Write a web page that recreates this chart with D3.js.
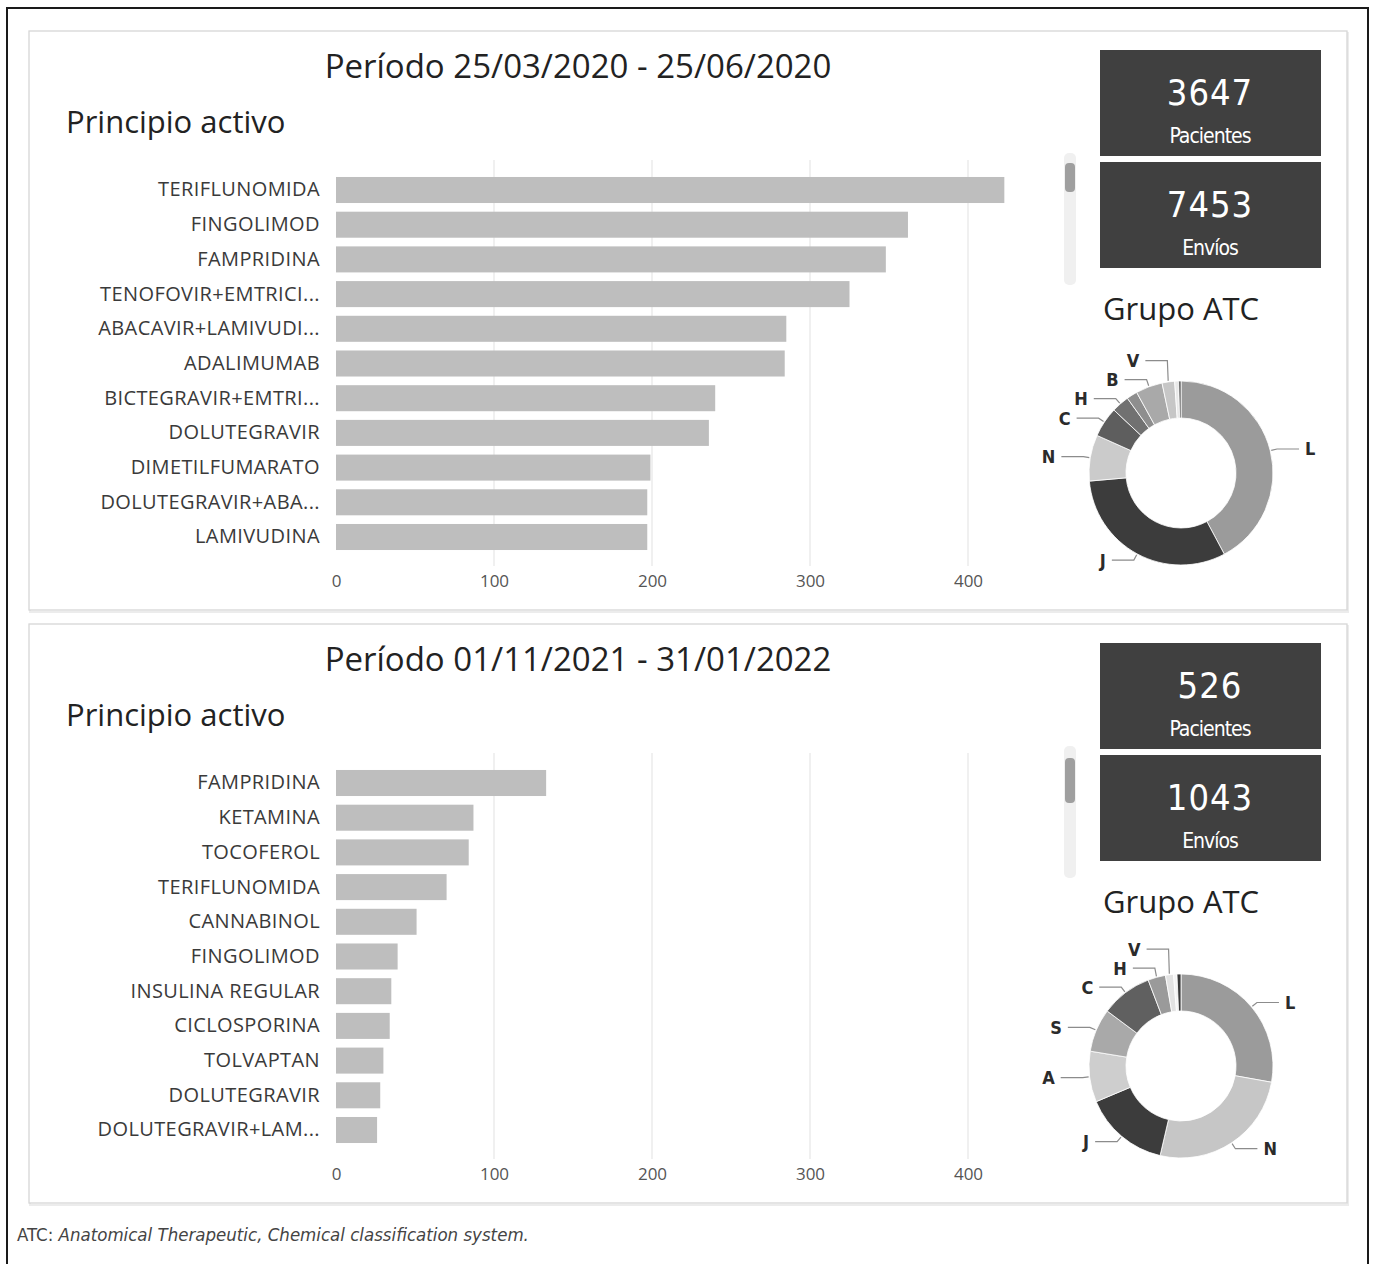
<!DOCTYPE html>
<html>
<head>
<meta charset="utf-8">
<script src="https://cdn.jsdelivr.net/npm/d3@7"></script>
<style>
  body { margin: 0; background: #fff; }
  svg { display: block; }
</style>
</head>
<body>
<div id="chart"></div>
<script>
// values
const periods = ['Período 25/03/2020 - 25/06/2020', 'Período 01/11/2021 - 31/01/2022'];

const drugs2020 = ['TERIFLUNOMIDA', 'FINGOLIMOD', 'FAMPRIDINA', 'TENOFOVIR+EMTRICI...', 'ABACAVIR+LAMIVUDI...',
  'ADALIMUMAB', 'BICTEGRAVIR+EMTRI...', 'DOLUTEGRAVIR', 'DIMETILFUMARATO', 'DOLUTEGRAVIR+ABA...', 'LAMIVUDINA'];
const counts2020 = [423, 362, 348, 325, 285, 284, 240, 236, 199, 197, 197];

const drugs2022 = ['FAMPRIDINA', 'KETAMINA', 'TOCOFEROL', 'TERIFLUNOMIDA', 'CANNABINOL', 'FINGOLIMOD',
  'INSULINA REGULAR', 'CICLOSPORINA', 'TOLVAPTAN', 'DOLUTEGRAVIR', 'DOLUTEGRAVIR+LAM...'];
const counts2022 = [133, 87, 84, 70, 51, 39, 35, 34, 30, 28, 26];

const xTicks = [0, 100, 200, 300, 400];

const pacientes = [3647, 526];
const envios = [7453, 1043];

// ATC groups, clockwise from 12 o'clock ('' = slice too small to be labelled)
const atc2020 = ['L', 'J', 'N', 'C', 'H', '', 'B', 'V', '', ''];
const atcShare2020 = [42.2, 31.4, 8.1, 5.3, 3.1, 1.9, 4.7, 2.2, 0.7, 0.4];
const atcGrey2020 = ['#9b9b9b', '#3c3c3c', '#cbcbcb', '#5e5e5e', '#717171', '#8e8e8e', '#a9a9a9', '#c6c6c6', '#e8e8e8', '#4a4a4a'];

const atc2022 = ['L', 'N', 'J', 'A', 'S', 'C', 'H', 'V', '', ''];
const atcShare2022 = [27.8, 25.8, 15.0, 8.9, 7.6, 9.0, 3.1, 1.4, 0.6, 0.7];
const atcGrey2022 = ['#9b9b9b', '#c6c6c6', '#3c3c3c', '#cecece', '#a9a9a9', '#606060', '#9a9a9a', '#e3e3e3', '#f4f4f4', '#3a3a3a'];

const W = 1373, H = 1264;
const uiFont = '"Open Sans", "Noto Sans", sans-serif';
const dinFont = '"DejaVu Sans Condensed", "DejaVu Sans", sans-serif';

const svg = d3.select('#chart').append('svg')
  .attr('width', W)
  .attr('height', H);

svg.append('rect')
  .attr('x', 7).attr('y', 8)
  .attr('width', 1361).attr('height', 1300)
  .attr('fill', 'none')
  .attr('stroke', '#1a1a1a')
  .attr('stroke-width', 2);

const x = d3.scaleLinear().domain([0, 400]).range([336, 968]);

function drawPanel(k, drugs, counts, atc, share, greys, dy) {
  const g = svg.append('g').attr('transform', `translate(0,${dy})`);

  // panel frame with a soft shadow line
  g.append('rect')
    .attr('x', 30).attr('y', 33).attr('width', 1318).attr('height', 579)
    .attr('fill', 'none').attr('stroke', '#ececec').attr('stroke-width', 2);
  g.append('rect')
    .attr('x', 29).attr('y', 31).attr('width', 1318).attr('height', 579)
    .attr('fill', '#fff').attr('stroke', '#d6d6d6').attr('stroke-width', 1.3);

  g.append('text')
    .attr('x', 578).attr('y', 78)
    .attr('text-anchor', 'middle')
    .style('font-family', uiFont).style('font-size', '33px').style('fill', '#222')
    .text(periods[k]);

  g.append('text')
    .attr('x', 66).attr('y', 133)
    .style('font-family', uiFont).style('font-size', '31px').style('fill', '#222')
    .text('Principio activo');

  const y = d3.scaleBand()
    .domain(drugs)
    .range([172.65, 554.35])
    .paddingInner(0.25)
    .paddingOuter(0.125);

  g.append('g').selectAll('line')
    .data(xTicks.slice(1))
    .join('line')
    .attr('x1', d => x(d)).attr('x2', d => x(d))
    .attr('y1', 160).attr('y2', 566)
    .attr('stroke', '#e6e6e6').attr('stroke-width', 1.2);

  g.append('g').selectAll('rect')
    .data(counts)
    .join('rect')
    .attr('x', x(0))
    .attr('y', (d, i) => y(drugs[i]))
    .attr('width', d => x(d) - x(0))
    .attr('height', y.bandwidth())
    .attr('fill', '#bebebe');

  const yAxis = g.append('g')
    .attr('transform', `translate(${x(0)},0)`)
    .call(d3.axisLeft(y).tickSize(0).tickPadding(16));
  yAxis.select('.domain').remove();
  yAxis.selectAll('text')
    .style('font-family', uiFont).style('font-size', '20px').style('fill', '#3a3a3a')
    .style('letter-spacing', '0.4px');

  const xAxis = g.append('g')
    .attr('transform', 'translate(0,565)')
    .call(d3.axisBottom(x).tickValues(xTicks).tickSize(0).tickPadding(10));
  xAxis.select('.domain').remove();
  xAxis.selectAll('text')
    .style('font-family', uiFont).style('font-size', '17px').style('fill', '#555');

  // scrollbar of the table
  g.append('rect')
    .attr('x', 1064).attr('y', 153).attr('width', 12).attr('height', 132).attr('rx', 5)
    .attr('fill', '#f0f0f0');
  g.append('rect')
    .attr('x', 1065).attr('y', k === 0 ? 163 : 165).attr('width', 10)
    .attr('height', k === 0 ? 29 : 45).attr('rx', 4)
    .attr('fill', '#9f9f9f');

  // KPI cards
  const cards = [
    { value: pacientes[k], label: 'Pacientes', top: 50 },
    { value: envios[k], label: 'Envíos', top: 162 }
  ];
  const card = g.append('g').selectAll('g')
    .data(cards)
    .join('g')
    .attr('transform', d => `translate(1100,${d.top})`);
  card.append('rect')
    .attr('width', 221).attr('height', 106)
    .attr('fill', '#404040');
  card.append('text')
    .attr('x', 110).attr('y', 55)
    .attr('text-anchor', 'middle')
    .style('font-family', dinFont).style('font-size', '36px').style('fill', '#fff')
    .style('letter-spacing', '1px')
    .text(d => d.value);
  card.append('text')
    .attr('x', 110).attr('y', 93)
    .attr('text-anchor', 'middle')
    .style('font-family', dinFont).style('font-size', '21px').style('fill', '#fff')
    .style('letter-spacing', '-1px')
    .text(d => d.label);

  g.append('text')
    .attr('x', 1103).attr('y', 320)
    .style('font-family', uiFont).style('font-size', '31px').style('fill', '#222')
    .text('Grupo ATC');

  // donut
  const cx = 1181, cy = 473, rO = 92, rI = 55;
  const donut = g.append('g').attr('transform', `translate(${cx},${cy})`);
  const arcs = d3.pie().sort(null).value(d => d)(share);
  const arc = d3.arc().innerRadius(rI).outerRadius(rO);
  donut.selectAll('path')
    .data(arcs)
    .join('path')
    .attr('d', arc)
    .attr('fill', (d, i) => greys[i])
    .attr('stroke', '#fff').attr('stroke-width', 0.8);

  const labelled = arcs
    .map((d, i) => ({ name: atc[i], a: (d.startAngle + d.endAngle) / 2 }))
    .filter(d => d.name !== '');
  labelled.forEach(d => {
    d.side = Math.sin(d.a) >= 0 ? 1 : -1;
    d.x1 = Math.sin(d.a) * (rO + 1);
    d.y1 = -Math.cos(d.a) * (rO + 1);
    d.x2 = Math.sin(d.a) * (rO + 7);
    d.y2 = -Math.cos(d.a) * (rO + 7);
    d.ly = d.y2;
  });
  // keep labels on each side at least one line apart
  [1, -1].forEach(side => {
    const list = labelled.filter(d => d.side === side).sort((a, b) => b.ly - a.ly);
    for (let i = 1; i < list.length; i++) {
      if (list[i - 1].ly - list[i].ly < 19) list[i].ly = list[i - 1].ly - 19;
    }
  });

  donut.selectAll('polyline')
    .data(labelled)
    .join('polyline')
    .attr('points', d => [[d.x1, d.y1], [d.x2, d.ly], [d.x2 + d.side * 22, d.ly]].join(' '))
    .attr('fill', 'none')
    .attr('stroke', '#8c8c8c').attr('stroke-width', 1.2);

  donut.selectAll('text')
    .data(labelled)
    .join('text')
    .attr('x', d => d.x2 + d.side * 28)
    .attr('y', d => d.ly)
    .attr('dy', '0.36em')
    .attr('text-anchor', d => d.side > 0 ? 'start' : 'end')
    .style('font-family', dinFont).style('font-size', '18px').style('font-weight', 'bold')
    .style('fill', '#2b2b2b')
    .text(d => d.name);
}

drawPanel(0, drugs2020, counts2020, atc2020, atcShare2020, atcGrey2020, 0);
drawPanel(1, drugs2022, counts2022, atc2022, atcShare2022, atcGrey2022, 593);

const note = svg.append('text')
  .attr('x', 17).attr('y', 1241)
  .style('font-family', '"Liberation Sans Narrow", "DejaVu Sans Condensed", sans-serif')
  .style('font-size', '18.5px').style('fill', '#444');
note.append('tspan').text('ATC: ');
note.append('tspan').style('font-style', 'italic')
  .text('Anatomical Therapeutic, Chemical classification system.');
</script>
</body>
</html>
